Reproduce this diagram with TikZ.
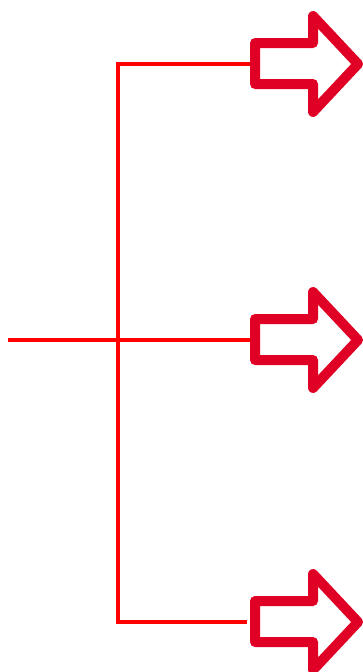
\documentclass[tikz,border=0pt]{standalone}
\usepackage{xcolor}
\usetikzlibrary{positioning}
\definecolor{carmim}{HTML}{E00026}
\tikzset{
  ramo/.style={draw=red, line width=4pt, line join=miter},
  contorno/.style={draw=carmim, line width=10pt, line join=round},
  seta/.pic={
    \draw[contorno] (0,-21) -- (58,-21) -- (58,-48) -- (103,0) -- (58,48) -- (58,20) -- (0,20) -- cycle;
  },
}

\begin{document}
\begin{tikzpicture}[x=1pt, y=-1pt]
  \useasboundingbox (0,0) rectangle (363,672);
  % pontos da chave
  \coordinate (entrada) at (8,340);
  \coordinate (topo) at (118,64);
  \coordinate (base) at (118,622);
  \coordinate (s1) at (252,64);
  \coordinate (s2) at (252,340);
  \coordinate (s3) at (247,622);
  \draw[ramo] (entrada) -- (s2);
  \draw[ramo] (s1) -- (topo) -- (base) -- (s3);
  % setas
  \pic at (255,64) {seta};
  \pic at (255,340) {seta};
  \pic at (255,622) {seta};
\end{tikzpicture}
\end{document}
